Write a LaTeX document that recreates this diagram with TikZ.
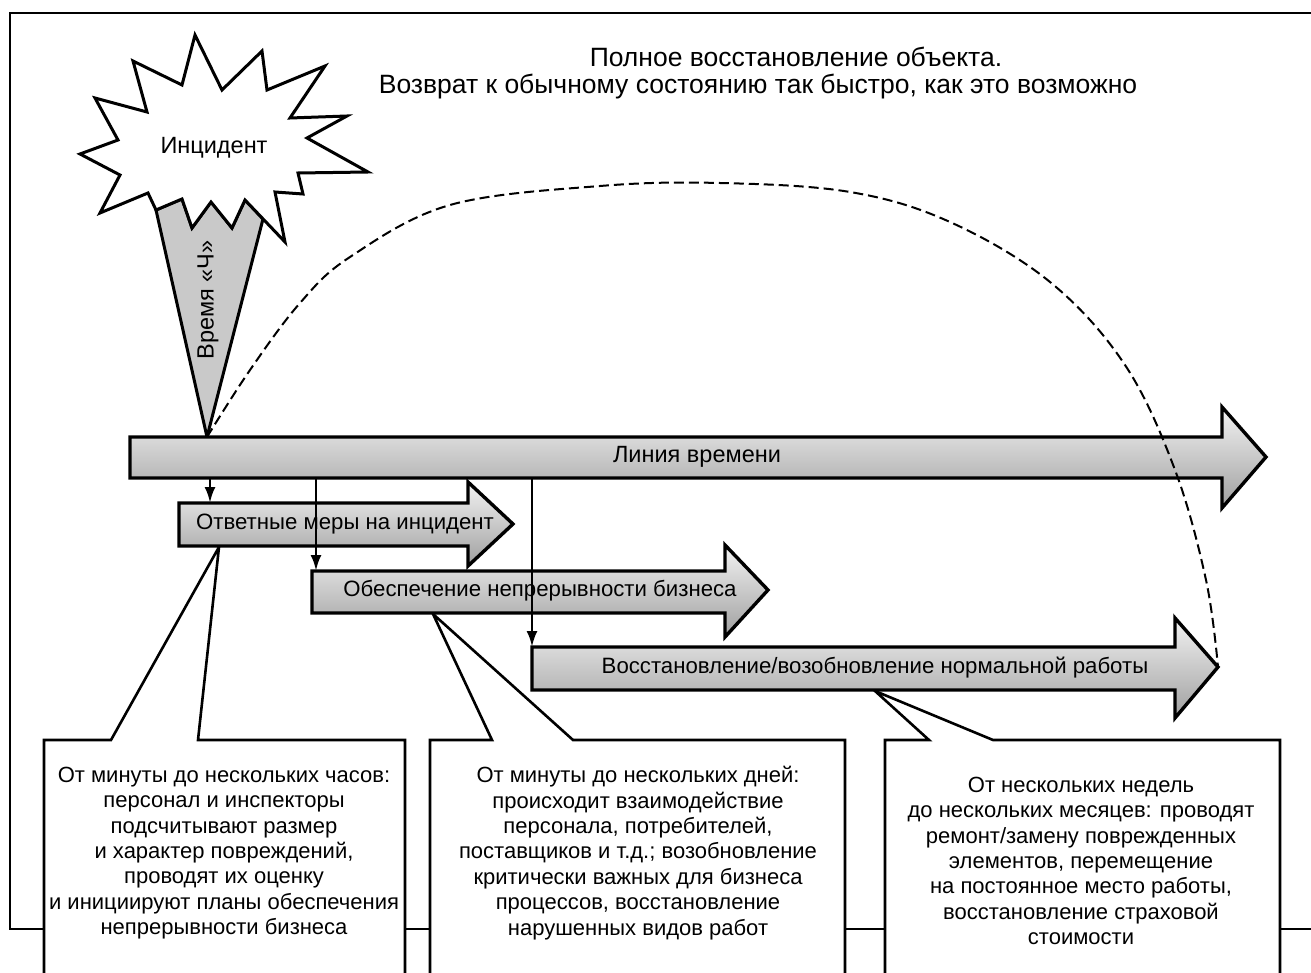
\documentclass[tikz,border=0pt]{standalone}
\usepackage{fontspec}
\setmainfont{Liberation Sans}
\usetikzlibrary{arrows.meta}
\begin{document}
\begin{tikzpicture}[x=1pt,y=-1pt,
  frameline/.style={line width=2.8pt, line join=miter},
  bigarrow/.style={draw=black, line width=3.4pt, line join=miter, top color=gray!10, bottom color=gray!75},
  callout/.style={draw=black, line width=2.6pt, fill=white, line join=miter},
  lbl/.style={font=\fontsize{22.2}{26}\selectfont, inner sep=0pt},
  biglbl/.style={font=\fontsize{23.5}{27}\selectfont, inner sep=0pt},
  boxtext/.style={font=\fontsize{22}{25.4}\selectfont, align=center, inner sep=0pt},
  titletext/.style={font=\fontsize{26.5}{29}\selectfont, inner sep=0pt},
  drop/.style={line width=2.8pt, -{Latex[length=16pt,width=11pt]}},
  arc/.style={line width=2pt, dash pattern=on 10pt off 5pt},
]
\clip (0,0) rectangle (1311,973);
\fill[white] (0,0) rectangle (1311,973);

% frame
\draw[frameline] (1320,13) -- (10,13) -- (10,929) -- (44,929);
\draw[frameline] (405,929) -- (430,929);
\draw[frameline] (845,929) -- (885,929);
\draw[frameline] (1280,929) -- (1320,929);

% title
\node[titletext] (t1) at (796,57) {Полное восстановление объекта.};
\node[titletext] (t2) at (758,87) {Возврат к обычному состоянию так быстро, как это возможно};

% callout boxes
\draw[callout] (44,1000) -- (44,740) -- (111,740) -- (219,547) -- (198,740) -- (405,740) -- (405,1000);
\draw[callout] (430,1000) -- (430,740) -- (492,740) -- (433,614) -- (573,740) -- (845,740) -- (845,1000);
\draw[callout] (885,1000) -- (885,740) -- (929,740) -- (875,691) -- (993,740) -- (1280,740) -- (1280,1000);

\node[boxtext] (b1) at (224,853) {От минуты до нескольких часов:\\персонал и инспекторы\\подсчитывают размер\\и характер повреждений,\\проводят их оценку\\и инициируют планы обеспечения\\непрерывности бизнеса};
\node[boxtext] (b2) at (638,853) {От минуты до нескольких дней:\\происходит взаимодействие\\персонала, потребителей,\\поставщиков и т.д.; возобновление\\критически важных для бизнеса\\процессов, восстановление\\нарушенных видов работ};
\node[boxtext] (b3) at (1081,861) {От нескольких недель\\до нескольких месяцев: проводят\\ремонт/замену поврежденных\\элементов, перемещение\\на постоянное место работы,\\восстановление страховой\\стоимости};

% cone and star
\coordinate (apex) at (207,437);
\filldraw[fill=gray!42, draw=black, line width=3pt, line join=miter]
  (apex) -- (156,210) -- (182,199) -- (192,228) -- (211,202) -- (232,228) -- (245,200) -- (263,219) -- cycle;
\filldraw[fill=white, draw=black, line width=3pt, line join=miter]
  (195,35) -- (222,90) -- (262,51) -- (267,90) -- (325,66) -- (290,118) -- (347,116) -- (307,138)
  -- (368,172) -- (298,173) -- (303,194) -- (275,192) -- (285,242) -- (245,200) -- (232,228)
  -- (211,202) -- (192,228) -- (182,199) -- (156,210) -- (148,193) -- (100,213) -- (120,175)
  -- (80,154) -- (118,140) -- (95,98) -- (147,112) -- (133,61) -- (182,85) -- cycle;
\node[biglbl] (inc) at (214,148) {Инцидент};
\node[biglbl, rotate=90] (chas) at (208,300) {Время «Ч»};

% big arrows
\path[bigarrow] (130,437) -- (1222,437) -- (1222,407) -- (1266,457) -- (1222,508) -- (1222,478) -- (130,478) -- cycle;
\node[biglbl] (tl) at (697,457) {Линия времени};
\path[bigarrow] (179,503) -- (468,503) -- (468,482) -- (513,524) -- (468,566) -- (468,546) -- (179,546) -- cycle;
\node[lbl] (a1) at (345,524) {Ответные меры на инцидент};
\path[bigarrow] (312,571) -- (725,571) -- (725,545) -- (768,590) -- (725,637) -- (725,613) -- (312,613) -- cycle;
\node[lbl] (a2) at (540,591) {Обеспечение непрерывности бизнеса};
\path[bigarrow] (532,647) -- (1175,647) -- (1175,618) -- (1218,667) -- (1175,718) -- (1175,690) -- (532,690) -- cycle;
\node[lbl] (a3) at (875,668) {Восстановление/возобновление нормальной работы};
\coordinate (tip3) at (1218,667);

% drop connectors
\coordinate (d1s) at (210,478); \coordinate (d1e) at (210,503);
\coordinate (d2s) at (316,478); \coordinate (d2e) at (316,571);
\coordinate (d3s) at (532,478); \coordinate (d3e) at (532,647);
\draw[drop] (d1s) -- (d1e);
\draw[drop] (d2s) -- (d2e);
\draw[drop] (d3s) -- (d3e);

% dashed recovery arc
\draw[arc] plot[smooth, tension=0.6] coordinates {(apex) (250,370) (300,303) (350,257) (450,205) (600,186) (720,183) (850,192) (950,222) (1050,282) (1125,365) (1175,470) (1206,580) (tip3)};
\end{tikzpicture}
\end{document}
